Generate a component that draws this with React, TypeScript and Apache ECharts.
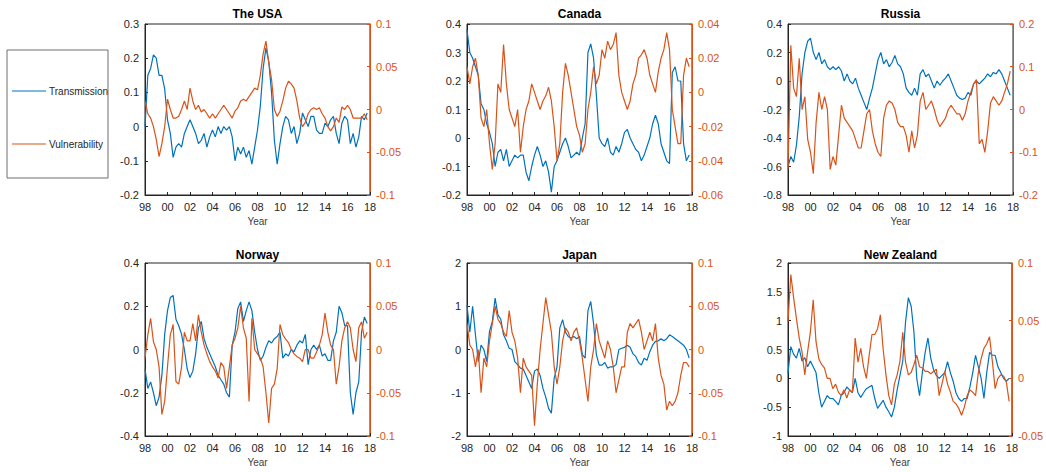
import React, { useEffect, useRef } from "react";
import * as echarts from "echarts";

// Quarterly observations, 1998Q1 .. 2017Q4
const START_YEAR = 1998;
const STEP = 0.25;

const usaTransmission = [
  0.0, 0.15, 0.17, 0.21, 0.2, 0.15, 0.15, 0.11, 0.02, -0.02, -0.09, -0.06,
  -0.05, -0.06, -0.02, 0.0, 0.02, 0.0, -0.02, -0.05, -0.04, -0.02, -0.06, -0.03,
  -0.01, -0.03, 0.0, -0.02, 0.0, -0.01, 0.0, -0.03, -0.1, -0.06, -0.08, -0.06,
  -0.09, -0.07, -0.11, -0.06, -0.01, 0.06, 0.17, 0.23, 0.19, 0.1, -0.04, -0.11,
  -0.05, 0.0, 0.03, 0.02, -0.02, 0.0, -0.05, -0.02, 0.04, 0.02, 0.0, 0.03,
  0.03, -0.01, -0.02, -0.02, 0.01, 0.0, 0.02, 0.03, -0.02, -0.05, 0.01, 0.03,
  0.02, -0.05, -0.02, -0.06, -0.03, 0.03, 0.02, 0.04,
];
const usaVulnerability = [
  0.01, -0.005, -0.01, -0.02, -0.035, -0.055, -0.04, -0.02, 0.012, 0.0, -0.01, -0.01,
  -0.008, 0.0, 0.01, 0.0, 0.025, 0.01, 0.0, 0.005, -0.003, 0.0, -0.005, -0.01,
  -0.005, -0.01, -0.005, 0.0, 0.005, 0.0, -0.005, -0.01, -0.002, 0.002, 0.01, 0.012,
  0.01, 0.015, 0.02, 0.025, 0.023, 0.04, 0.065, 0.08, 0.055, 0.035, 0.0, -0.008,
  -0.002, 0.01, 0.025, 0.033, 0.03, 0.025, 0.01, -0.01, -0.02, -0.015, -0.005, 0.0,
  0.002, 0.0, 0.002, -0.005, -0.01, -0.02, -0.025, -0.02, -0.01, -0.015, 0.003, 0.0,
  0.005, 0.0, -0.01, -0.01, -0.01, -0.01, -0.005, -0.012,
];

const canadaTransmission = [
  0.38, 0.3, 0.28, 0.25, 0.22, 0.12, 0.1, 0.05, 0.02, -0.02, -0.1, -0.05,
  -0.04, -0.08, -0.04, -0.1, -0.08, -0.06, -0.07, -0.06, -0.06, -0.12, -0.15, -0.1,
  -0.06, -0.03, -0.06, -0.1, -0.08, -0.12, -0.19, -0.1, -0.08, -0.05, -0.02, 0.0,
  -0.03, -0.07, -0.06, -0.05, -0.06, 0.0, 0.05, 0.3, 0.33, 0.28, 0.15, 0.0,
  -0.02, -0.03, 0.0, -0.05, -0.06, -0.03, -0.05, -0.02, 0.02, 0.03, 0.0, -0.02,
  -0.04, -0.05, -0.08, -0.06, -0.03, 0.0, 0.05, 0.08, 0.05, -0.02, -0.05, -0.08,
  -0.09, 0.23, 0.25, 0.2, 0.2, -0.02, -0.08, -0.06,
];
const canadaVulnerability = [
  0.015, 0.005, 0.015, 0.02, 0.01, -0.015, -0.02, -0.01, -0.03, -0.045, -0.03, 0.005,
  0.0, 0.028, 0.005, -0.01, -0.015, -0.02, -0.01, -0.035, -0.02, -0.01, -0.005, 0.005,
  0.0, -0.005, -0.01, -0.005, -0.002, 0.003, -0.005, -0.02, -0.04, -0.03, 0.0, 0.017,
  0.01, 0.0, -0.01, -0.02, -0.025, -0.035, -0.03, -0.01, 0.0, 0.015, 0.005, 0.01,
  0.025, 0.02, 0.03, 0.025, 0.028, 0.035, 0.01, 0.0, -0.005, -0.01, -0.005, 0.005,
  0.01, 0.02, 0.022, 0.025, 0.02, 0.01, 0.005, 0.0, 0.012, 0.02, 0.025, 0.035,
  0.025, -0.01, -0.02, -0.03, -0.03, 0.01, 0.02, 0.015,
];

const russiaTransmission = [
  -0.6, -0.53, -0.57, -0.45, -0.25, 0.05, 0.2, 0.28, 0.3, 0.2, 0.15, 0.2,
  0.12, 0.15, 0.1, 0.08, 0.1, 0.08, 0.1, 0.07, 0.0, 0.05, 0.0, -0.02,
  0.02, -0.05, -0.1, -0.15, -0.2, -0.12, -0.05, 0.05, 0.15, 0.2, 0.12, 0.15,
  0.1, 0.13, 0.18, 0.12, 0.1, 0.05, -0.05, -0.08, -0.1, -0.05, -0.1, 0.05,
  0.08, 0.03, 0.05, 0.0, -0.05, 0.0, -0.03, 0.0, 0.02, 0.05, 0.0, -0.05,
  -0.1, -0.12, -0.13, -0.12, -0.08, -0.1, -0.02, 0.0, -0.02, 0.0, 0.02, 0.05,
  0.03, 0.06, 0.05, 0.08, 0.05, 0.0, -0.05, -0.1,
];
const russiaVulnerability = [
  -0.14, 0.15, 0.05, 0.03, 0.12, 0.0, 0.03, -0.07, -0.1, -0.15, -0.03, 0.04,
  0.0, 0.03, 0.0, -0.14, -0.11, -0.13, -0.06, 0.01, -0.02, -0.03, -0.04, -0.05,
  -0.07, -0.09, -0.09, -0.05, -0.01, 0.0, -0.05, -0.08, -0.1, -0.11, -0.02, 0.01,
  0.02, 0.015, 0.0, -0.03, -0.04, -0.04, -0.06, -0.1, -0.05, -0.09, -0.06, 0.02,
  0.04, 0.0, 0.01, 0.02, 0.0, -0.025, -0.04, -0.03, -0.02, 0.0, 0.01, 0.0,
  -0.01, -0.01, -0.025, -0.01, 0.02, 0.04, 0.06, 0.07, -0.08, -0.07, -0.1, -0.05,
  0.015, 0.03, 0.02, 0.01, 0.02, 0.04, 0.06, 0.09,
];

const norwayTransmission = [
  -0.09, -0.18, -0.15, -0.2, -0.26, -0.22, -0.12, 0.07, 0.18, 0.24, 0.25, 0.14,
  0.11, 0.07, 0.0, -0.09, -0.13, -0.1, -0.02, 0.1, 0.13, 0.05, 0.01, -0.02,
  -0.05, -0.08, -0.12, -0.14, -0.16, -0.2, -0.22, 0.02, 0.08, 0.19, 0.22, 0.13,
  0.18, 0.22, 0.18, 0.08, 0.0, -0.05, -0.03, 0.01, 0.04, 0.03, 0.05, 0.06,
  0.08, -0.04, -0.02, -0.03, 0.0, -0.01, 0.02, 0.04, 0.03, 0.07, -0.07, 0.0,
  0.02, 0.0, 0.02, -0.03, -0.02, -0.05, -0.05, 0.04, 0.08, 0.2, 0.17, 0.11,
  0.11, -0.2, -0.3, -0.2, -0.15, 0.08, 0.15, 0.12,
];
const norwayVulnerability = [
  -0.01, 0.017, 0.036, 0.009, 0.0, -0.02, -0.075, -0.06, -0.02, 0.017, 0.029, -0.037,
  -0.04, -0.02, 0.02, 0.01, 0.01, 0.03, 0.01, 0.04, 0.02, 0.005, -0.005, -0.014,
  -0.02, -0.025, -0.033, -0.015, -0.02, -0.045, -0.02, 0.005, 0.013, 0.025, 0.05, 0.025,
  0.013, -0.06, 0.036, 0.0, -0.005, -0.01, -0.02, -0.05, -0.085, -0.045, -0.04, -0.022,
  0.029, 0.017, 0.012, 0.008, 0.0, -0.005, -0.008, -0.01, -0.014, 0.0, 0.0, -0.01,
  -0.01, -0.003, 0.005, 0.017, 0.042, 0.02, 0.005, 0.0, -0.04, -0.02, 0.01, 0.025,
  0.032, 0.025, 0.0, -0.014, 0.025, 0.032, 0.013, 0.02,
];

const japanTransmission = [
  1.03, 0.4, 1.0, 0.34, -0.28, 0.1, 0.0, -0.28, 0.42, 0.65, 1.19, 0.8,
  0.7, 0.34, 0.2, 0.03, 0.0, -0.28, -0.35, -0.43, -0.45, -0.6, -0.75, -0.9,
  -0.5, -0.45, -0.6, -0.9, -1.1, -1.36, -1.47, -0.66, -0.4, 0.5, 0.69, 0.4,
  0.3, 0.26, 0.3, 0.25, 0.3, -0.12, -0.2, 0.9, 1.11, 0.6, -0.12, -0.36,
  -0.36, -0.3, -0.43, -0.4, -0.4, -0.35, 0.0, 0.03, 0.05, 0.1, 0.05, -0.1,
  -0.16, -0.3, -0.36, -0.2, -0.25, -0.05, 0.1, 0.19, 0.2, 0.25, 0.2, 0.25,
  0.34, 0.3, 0.25, 0.2, 0.15, 0.1, 0.0, -0.2,
];
const japanVulnerability = [
  0.03, 0.005, 0.0, -0.02, 0.0, -0.05, -0.01, -0.02, 0.01, 0.03, 0.05, 0.035,
  0.03, 0.02, 0.015, 0.045, 0.02, 0.01, -0.01, -0.05, -0.01, -0.02, -0.025, -0.03,
  -0.088, -0.04, 0.0, 0.03, 0.06, 0.04, 0.02, -0.02, -0.04, -0.02, 0.01, 0.025,
  0.02, 0.01, 0.02, 0.025, 0.01, -0.01, -0.035, -0.06, -0.02, 0.0, 0.03, 0.01,
  0.0, -0.01, 0.01, 0.0, -0.02, -0.05, -0.035, -0.02, -0.02, 0.02, 0.03, 0.025,
  0.03, 0.035, 0.02, 0.0, 0.01, 0.02, 0.01, 0.03, -0.01, -0.03, -0.04, -0.07,
  -0.06, -0.065, -0.06, -0.05, -0.03, -0.015, -0.015, -0.02,
];

const nzTransmission = [
  0.09, 0.55, 0.42, 0.35, 0.52, 0.3, 0.36, 0.2, 0.3, 0.2, 0.1, -0.25,
  -0.5, -0.4, -0.3, -0.35, -0.35, -0.4, -0.46, -0.3, -0.25, -0.15, -0.2, -0.25,
  0.0, -0.25, -0.33, -0.25, -0.18, -0.15, -0.12, -0.35, -0.52, -0.45, -0.38, -0.5,
  -0.58, -0.67, -0.5, -0.2, 0.05, 0.3, 0.98, 1.4, 1.25, 0.8, 0.0, -0.3,
  0.1, 0.45, 0.7, 0.35, 0.15, 0.05, 0.0, 0.05, 0.1, 0.29, 0.1, -0.05,
  -0.25, -0.35, -0.4, -0.35, -0.35, -0.15, 0.1, 0.4, 0.2, 0.0, -0.35, 0.1,
  0.45, 0.4, 0.4, 0.2, 0.1, 0.0, -0.05, 0.0,
];
const nzVulnerability = [
  0.049, 0.09, 0.07, 0.052, 0.035, 0.023, 0.003, 0.023, 0.04, 0.068, 0.032, 0.017,
  0.012, 0.009, 0.0, 0.0, -0.009, -0.005, -0.012, -0.015, -0.01, -0.017, -0.01, -0.012,
  0.035, 0.014, 0.026, 0.01, 0.0, 0.02, 0.038, 0.038, 0.043, 0.055, 0.025, 0.003,
  -0.015, -0.023, -0.005, 0.003, 0.015, 0.04, 0.014, 0.003, 0.005, 0.012, 0.02, 0.01,
  0.009, 0.006, 0.006, 0.004, 0.006, 0.008, -0.015, -0.005, 0.006, -0.005, -0.012, -0.02,
  -0.022, -0.026, -0.032, -0.025, -0.015, -0.01, -0.012, -0.015, 0.005, 0.017, 0.026, 0.03,
  0.036, 0.015, -0.009, 0.0, 0.003, 0.002, -0.003, -0.02,
];

const countries = ["The USA", "Canada", "Russia", "Norway", "Japan", "New Zealand"];
const transmission = [usaTransmission, canadaTransmission, russiaTransmission, norwayTransmission, japanTransmission, nzTransmission];
const vulnerability = [usaVulnerability, canadaVulnerability, russiaVulnerability, norwayVulnerability, japanVulnerability, nzVulnerability];
// [min, max, interval]
const leftRanges = [[-0.2, 0.3, 0.1], [-0.2, 0.4, 0.1], [-0.8, 0.4, 0.2], [-0.4, 0.4, 0.2], [-2, 2, 1], [-1, 2, 0.5]];
const rightRanges = [[-0.1, 0.1, 0.05], [-0.06, 0.04, 0.02], [-0.2, 0.2, 0.1], [-0.1, 0.1, 0.05], [-0.1, 0.1, 0.05], [-0.05, 0.1, 0.05]];

const BLUE = "#0072BD";
const ORANGE = "#D95319";
const AXIS = "#262626";
const FONT = "Liberation Sans, Arial, Helvetica, sans-serif";

const colLeft = [145, 467, 788];
const colWidth = 225;
const rowTop = [24, 263];
const rowHeight = [171, 173];
const titleTop = [8, 249];

const fmtY = (v: number) => String(Math.round(v * 10000) / 10000);
const fmtX = (v: number) => String(Math.round(v) % 100).padStart(2, "0");

export default function App() {
  const ref = useRef<HTMLDivElement>(null);
  useEffect(() => {
    if (!ref.current) return;
    const chart = echarts.init(ref.current, undefined, { renderer: "svg" });
    const grids: any[] = [];
    const xAxes: any[] = [];
    const yAxes: any[] = [];
    const series: any[] = [];
    const titles: any[] = [];
    countries.forEach((name, i) => {
      const r = Math.floor(i / 3);
      const c = i % 3;
      grids.push({
        left: colLeft[c],
        top: rowTop[r],
        width: colWidth,
        height: rowHeight[r],
        show: true,
        borderColor: AXIS,
        borderWidth: 1,
        backgroundColor: "#fff",
      });
      titles.push({
        text: name,
        left: colLeft[c] + colWidth / 2,
        top: titleTop[r],
        textAlign: "center",
        padding: 0,
        textStyle: { fontSize: 12, fontWeight: "bold", color: "#000", fontFamily: FONT },
      });
      xAxes.push({
        gridIndex: i,
        type: "value",
        min: 1998,
        max: 2018,
        interval: 2,
        axisLine: { show: true, onZero: false, lineStyle: { color: AXIS, width: 1 } },
        axisTick: { show: true, inside: true, length: 3, lineStyle: { color: AXIS } },
        axisLabel: { formatter: fmtX, color: AXIS, fontSize: 11, margin: 6, fontFamily: FONT },
        splitLine: { show: false },
        name: "Year",
        nameLocation: "middle",
        nameGap: 21,
        nameTextStyle: { fontSize: 10, color: "#404040", fontFamily: FONT },
      });
      const [lmin, lmax, lint] = leftRanges[i];
      const [rmin, rmax, rint] = rightRanges[i];
      yAxes.push({
        gridIndex: i,
        type: "value",
        position: "left",
        min: lmin,
        max: lmax,
        interval: lint,
        axisLine: { show: true, onZero: false, lineStyle: { color: AXIS, width: 1 } },
        axisTick: { show: true, inside: true, length: 3, lineStyle: { color: AXIS } },
        axisLabel: { formatter: fmtY, color: AXIS, fontSize: 11, margin: 6, fontFamily: FONT },
        splitLine: { show: false },
      });
      yAxes.push({
        gridIndex: i,
        type: "value",
        position: "right",
        min: rmin,
        max: rmax,
        interval: rint,
        axisLine: { show: true, onZero: false, lineStyle: { color: ORANGE, width: 1 } },
        axisTick: { show: true, inside: true, length: 3, lineStyle: { color: ORANGE } },
        axisLabel: { formatter: fmtY, color: ORANGE, fontSize: 11, margin: 6, fontFamily: FONT },
        splitLine: { show: false },
      });
      const tSeries = transmission[i];
      const vSeries = vulnerability[i];
      series.push({
        name: "Transmission",
        type: "line",
        xAxisIndex: i,
        yAxisIndex: 2 * i,
        showSymbol: false,
        symbol: "none",
        lineStyle: { color: BLUE, width: 1.2 },
        itemStyle: { color: BLUE },
        data: tSeries.map((v, k) => [START_YEAR + k * STEP, v]),
      });
      series.push({
        name: "Vulnerability",
        type: "line",
        xAxisIndex: i,
        yAxisIndex: 2 * i + 1,
        showSymbol: false,
        symbol: "none",
        lineStyle: { color: ORANGE, width: 1.2 },
        itemStyle: { color: ORANGE },
        data: vSeries.map((v, k) => [START_YEAR + k * STEP, v]),
      });
    });

    chart.setOption({
      animation: false,
      backgroundColor: "#fff",
      title: titles,
      grid: grids,
      xAxis: xAxes,
      yAxis: yAxes,
      series,
      graphic: [
        {
          type: "rect",
          shape: { x: 7, y: 50, width: 101, height: 128 },
          style: { fill: "#fff", stroke: "#6e6e6e", lineWidth: 1 },
        },
        {
          type: "line",
          shape: { x1: 12, y1: 91, x2: 46, y2: 91 },
          style: { stroke: BLUE, lineWidth: 1 },
        },
        {
          type: "text",
          x: 49,
          y: 91,
          style: { text: "Transmission", fill: "#262626", fontSize: 10, fontFamily: FONT, verticalAlign: "middle", align: "left" },
        },
        {
          type: "line",
          shape: { x1: 12, y1: 144, x2: 46, y2: 144 },
          style: { stroke: ORANGE, lineWidth: 1 },
        },
        {
          type: "text",
          x: 49,
          y: 144,
          style: { text: "Vulnerability", fill: "#262626", fontSize: 10, fontFamily: FONT, verticalAlign: "middle", align: "left" },
        },
      ],
    });
    return () => chart.dispose();
  }, []);
  return (
    <div
      ref={ref}
      style={{ position: "fixed", left: 0, top: 0, width: 1046, height: 472, background: "#fff" }}
    />
  );
}
